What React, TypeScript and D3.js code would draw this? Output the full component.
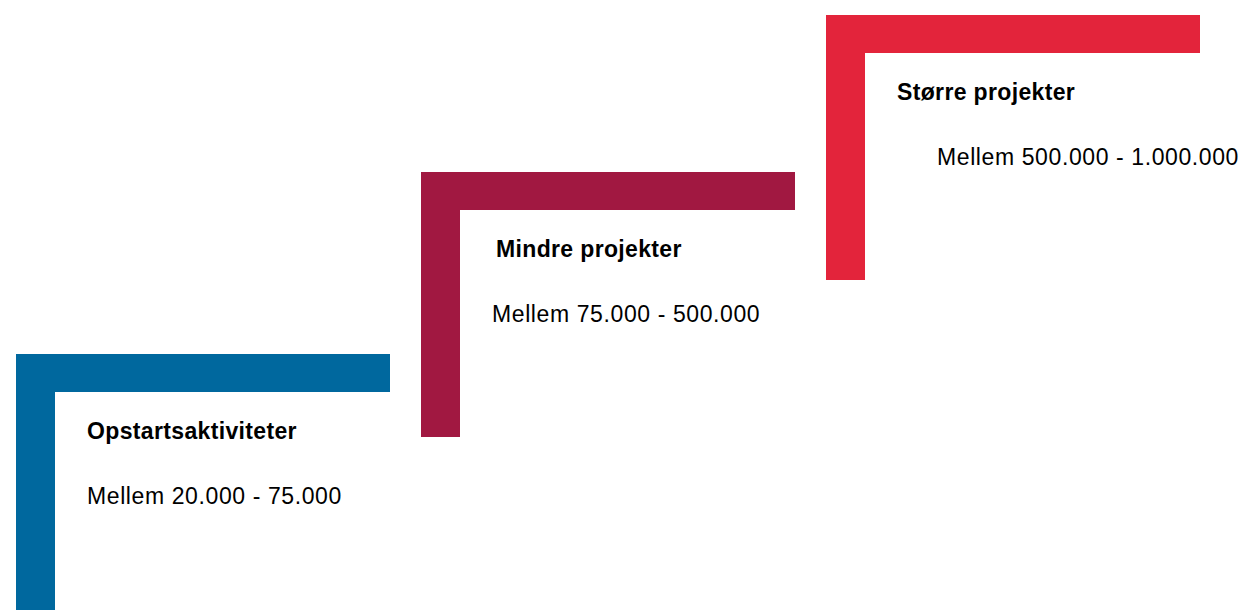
import React from "react";
import * as d3 from "d3";

const categories = ["Opstartsaktiviteter", "Mindre projekter", "Større projekter"];
const rangeLabels = ["Mellem 20.000 - 75.000", "Mellem 75.000 - 500.000", "Mellem 500.000 - 1.000.000"];
const colors = ["#00689e", "#a11841", "#e3243b"];

const W = 1243;
const H = 610;

export default function App() {
  const x = d3.scalePoint<string>().domain(categories).range([16, 826]);
  const yTop = d3.scaleOrdinal<string, number>().domain(categories).range([354, 172, 15]);
  const subIndent = d3.scaleOrdinal<string, number>().domain(categories).range([71, 71, 111]);
  const titleIndent = d3.scaleOrdinal<string, number>().domain(categories).range([71, 75, 71]);
  const armW = 374;
  const thick = 38;
  const legH = 265;

  return (
    <svg width={W} height={H} style={{ position: "absolute", left: 0, top: 0 }}>
      <rect width={W} height={H} fill="#ffffff" />
      {categories.map((c, i) => {
        const x0 = x(c)!;
        const y0 = yTop(c);
        const p = d3.path();
        p.moveTo(x0, y0);
        p.lineTo(x0 + armW, y0);
        p.lineTo(x0 + armW, y0 + thick);
        p.lineTo(x0 + thick + 1, y0 + thick);
        p.lineTo(x0 + thick + 1, y0 + legH);
        p.lineTo(x0, y0 + legH);
        p.closePath();
        return (
          <g key={c}>
            <path d={p.toString()} fill={colors[i]} />
            <text
              x={x0 + titleIndent(c)}
              y={y0 + 85}
              fontFamily="Liberation Sans, Arial, sans-serif"
              fontWeight="bold"
              fontSize={23}
              letterSpacing={0.35}
              fill="#000"
            >
              {c}
            </text>
            <text
              x={x0 + subIndent(c)}
              y={y0 + 150}
              fontFamily="Liberation Sans, Arial, sans-serif"
              fontSize={23}
              letterSpacing={0.6}
              fill="#000"
            >
              {rangeLabels[i]}
            </text>
          </g>
        );
      })}
    </svg>
  );
}
